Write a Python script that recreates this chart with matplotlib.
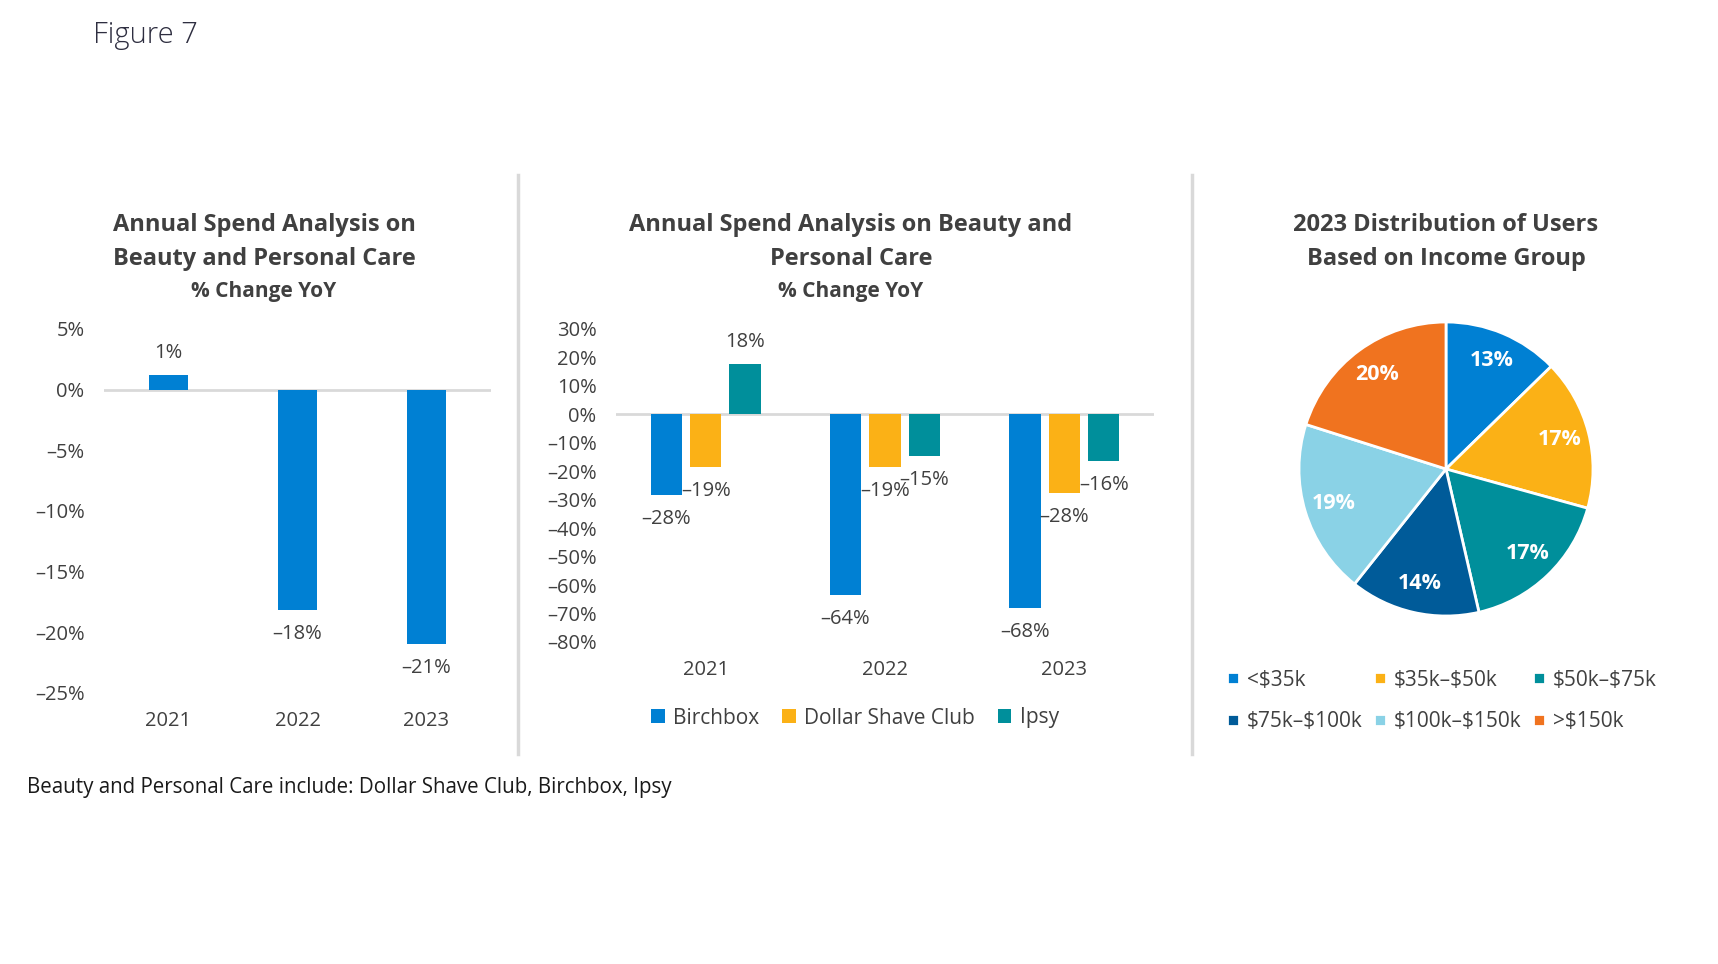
import matplotlib
matplotlib.use("Agg")
import matplotlib.pyplot as plt
from matplotlib.lines import Line2D
from matplotlib.ticker import FuncFormatter

plt.rcParams['font.family'] = ['Open Sans', 'DejaVu Sans']

# data
years = ["2021", "2022", "2023"]
total_change = [1.2, -18.2, -21.0]

brands = ["Birchbox", "Dollar Shave Club", "Ipsy"]
birchbox = [-28.3, -63.5, -68.1]
dollar_shave = [-18.6, -18.6, -27.8]
ipsy = [17.7, -14.6, -16.4]

income_groups = ["<$35k", "$35k–$50k", "$50k–$75k", "$75k–$100k", "$100k–$150k", ">$150k"]
income_share = [12.7, 16.6, 17.1, 14.3, 19.2, 20.1]

BLUE = "#0080D3"
YELLOW = "#FBB116"
TEAL = "#008F9B"
NAVY = "#005B99"
LIGHT = "#8AD2E6"
ORANGE = "#F0731F"
TXT = "#404040"
GRID = "#D9D9D9"


def pct(v, pos=None):
    return f"{v:.0f}%".replace("-", "–")


def label_bars(ax, xs, vals):
    for x, v in zip(xs, vals):
        off = 16 if v >= 0 else -17
        ax.annotate(pct(round(v)), (x, v), xytext=(0, off), textcoords="offset points",
                    ha="center", va="center", fontsize=14.5, color=TXT)


W, H = 1718, 964
fig = plt.figure(figsize=(W / 100, H / 100), dpi=100)
fig.patch.set_facecolor("white")

fig.text(93 / W, 1 - 35 / H, "Figure 7", fontsize=21, fontweight="light", color="#2E2E40",
         ha="left", va="center")

# left chart
ax1 = fig.add_axes([104 / W, 1 - 693 / H, 387 / W, 364 / H])
x1 = range(len(years))
ax1.bar(x1, total_change, width=0.31, color=BLUE)
ax1.axhline(0, color=GRID, lw=2, zorder=0)
ax1.set_xlim(-0.5, 2.5)
ax1.set_ylim(-25, 5)
ax1.set_yticks(range(-25, 6, 5))
ax1.yaxis.set_major_formatter(FuncFormatter(pct))
ax1.set_xticks(list(x1))
ax1.set_xticklabels(years)
label_bars(ax1, x1, total_change)

# middle chart
ax2 = fig.add_axes([616 / W, 1 - 642 / H, 538 / W, 313 / H])
w = 0.175
step = 0.22
xs = list(range(len(years)))
for k, (vals, col, name) in enumerate(zip([birchbox, dollar_shave, ipsy], [BLUE, YELLOW, TEAL], brands)):
    pos = [x + (k - 1) * step for x in xs]
    ax2.bar(pos, vals, width=w, color=col, label=name)
    label_bars(ax2, pos, vals)
ax2.axhline(0, color=GRID, lw=2, zorder=0)
ax2.set_xlim(-0.5, 2.5)
ax2.set_ylim(-80, 30)
ax2.set_yticks(range(-80, 31, 10))
ax2.yaxis.set_major_formatter(FuncFormatter(pct))
ax2.set_xticks(xs)
ax2.set_xticklabels(years)
ax2.legend(loc="center", bbox_to_anchor=(855 / W, 1 - 718 / H), bbox_transform=fig.transFigure,
           ncol=3, frameon=False, fontsize=15, handlelength=0.65, handleheight=0.65,
           handletextpad=0.4, columnspacing=1.1, labelcolor=TXT)

for ax in (ax1, ax2):
    for s in ax.spines.values():
        s.set_visible(False)
    ax.tick_params(length=0, labelsize=14.5, colors=TXT)
    ax.tick_params(axis="y", pad=14)
    ax.tick_params(axis="x", pad=13)

# pie chart
ax3 = fig.add_axes([1299 / W, 1 - 616 / H, 294 / W, 294 / H])
colors = [BLUE, YELLOW, TEAL, NAVY, LIGHT, ORANGE]
wedges, _, autotexts = ax3.pie(income_share, colors=colors, startangle=90, counterclock=False,
                               autopct=lambda p: f"{p:.0f}%", pctdistance=0.8, radius=1,
                               wedgeprops=dict(edgecolor="white", linewidth=2),
                               textprops=dict(color="white", fontsize=15.5, fontweight="bold"))
ax3.set_xlim(-1, 1)
ax3.set_ylim(-1, 1)
order = [0, 3, 1, 4, 2, 5]
legend_labels = [g.replace("$", r"\$") for g in income_groups]
ax3.legend([wedges[i] for i in order], [legend_labels[i] for i in order],
           loc="center", bbox_to_anchor=(1442 / W, 1 - 701 / H), bbox_transform=fig.transFigure,
           ncol=3, frameon=False, fontsize=15, handlelength=0.55, handleheight=0.55,
           handletextpad=0.4, columnspacing=0.55, labelcolor=TXT, labelspacing=1.0)

# titles
title_kw = dict(fontsize=17, fontweight="bold", color=TXT, ha="center", va="center", linespacing=1.55)
fig.text(264 / W, 1 - 242 / H, "Annual Spend Analysis on\nBeauty and Personal Care", **title_kw)
fig.text(851 / W, 1 - 242 / H, "Annual Spend Analysis on Beauty and\nPersonal Care", **title_kw)
fig.text(1446 / W, 1 - 242 / H, "2023 Distribution of Users\nBased on Income Group", **title_kw)
fig.text(264 / W, 1 - 291 / H, "% Change YoY", fontsize=15, fontweight="bold", color=TXT, ha="center", va="center")
fig.text(851 / W, 1 - 291 / H, "% Change YoY", fontsize=15, fontweight="bold", color=TXT, ha="center", va="center")

# separators
for xs_ in (518, 1192):
    fig.add_artist(Line2D([xs_ / W, xs_ / W], [1 - 175 / H, 1 - 754 / H], color=GRID, lw=2.5))

fig.text(27 / W, 1 - 788 / H, "Beauty and Personal Care include: Dollar Shave Club, Birchbox, Ipsy",
         fontsize=14.8, color="#1A1A1A", ha="left", va="center")

fig.savefig("out.png", dpi=100, facecolor="white")
